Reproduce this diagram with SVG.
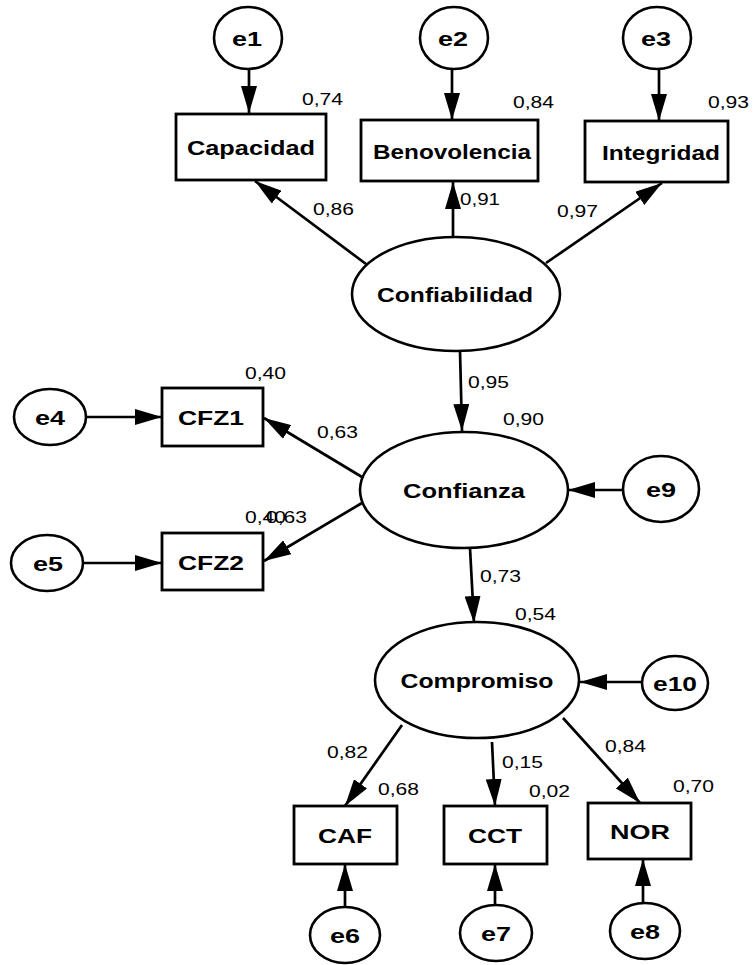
<svg xmlns="http://www.w3.org/2000/svg" width="753" height="965" viewBox="0 0 753 965">
  <style>
    .box { fill: #fff; stroke: #000; stroke-width: 2.8; }
    .lat { fill: #fff; stroke: #000; stroke-width: 2.6; }
    .err { fill: #fff; stroke: #000; stroke-width: 2.6; }
    .lbl { font-family: "Liberation Sans", Arial, sans-serif; font-weight: bold; font-size: 21px; fill: #000; text-anchor: middle; }
    .num { font-family: "Liberation Sans", Arial, sans-serif; font-size: 17px; fill: #000; }
    .path { fill: none; stroke: #000; stroke-width: 2.7; marker-end: url(#head); }
  </style>
  <defs>
    <marker id="head" viewBox="0 0 27 16" refX="27" refY="8" markerWidth="27" markerHeight="16" markerUnits="userSpaceOnUse" orient="auto">
      <path d="M0,0 L27,8 L0,16 Z" fill="#000"/>
    </marker>
  </defs>
  <rect width="753" height="965" fill="#fff"/>

  <!-- paths -->
  <g id="connectors">
    <line class="path" x1="249" y1="70" x2="249" y2="113"/>
    <line class="path" x1="452" y1="70" x2="452" y2="120"/>
    <line class="path" x1="659" y1="70" x2="659" y2="121"/>
    <line class="path" x1="366" y1="264" x2="255" y2="181"/>
    <line class="path" x1="453" y1="237" x2="453" y2="182"/>
    <line class="path" x1="546" y1="263" x2="662" y2="183"/>
    <line class="path" x1="460" y1="351" x2="462" y2="431"/>
    <line class="path" x1="86" y1="417" x2="162" y2="417"/>
    <line class="path" x1="82" y1="563" x2="162" y2="563"/>
    <line class="path" x1="362" y1="477" x2="264" y2="418"/>
    <line class="path" x1="362" y1="503" x2="264" y2="561"/>
    <line class="path" x1="623" y1="490" x2="568" y2="490"/>
    <line class="path" x1="470" y1="548" x2="474" y2="623"/>
    <line class="path" x1="641" y1="682" x2="580" y2="682"/>
    <line class="path" x1="402" y1="725" x2="345" y2="806"/>
    <line class="path" x1="492" y1="742" x2="495" y2="806"/>
    <line class="path" x1="563" y1="718" x2="640" y2="803"/>
    <line class="path" x1="345" y1="908" x2="345" y2="864"/>
    <line class="path" x1="495" y1="906" x2="495" y2="864"/>
    <line class="path" x1="643" y1="904" x2="643" y2="859"/>
  </g>

  <!-- observed indicators -->
  <g id="capacidad">
    <rect class="box" x="176" y="114" width="150" height="66"/>
    <text class="lbl" x="251" y="155" textLength="128" lengthAdjust="spacingAndGlyphs">Capacidad</text>
  </g>
  <g id="benovolencia">
    <rect class="box" x="361" y="120" width="177" height="61"/>
    <text class="lbl" x="452" y="159" textLength="158" lengthAdjust="spacingAndGlyphs">Benovolencia</text>
  </g>
  <g id="integridad">
    <rect class="box" x="585" y="121" width="143" height="61"/>
    <text class="lbl" x="661" y="160" textLength="118" lengthAdjust="spacingAndGlyphs">Integridad</text>
  </g>
  <g id="cfz1">
    <rect class="box" x="162" y="388" width="101" height="58"/>
    <text class="lbl" x="211" y="425" textLength="66" lengthAdjust="spacingAndGlyphs">CFZ1</text>
  </g>
  <g id="cfz2">
    <rect class="box" x="162" y="533" width="101" height="57"/>
    <text class="lbl" x="211" y="570" textLength="66" lengthAdjust="spacingAndGlyphs">CFZ2</text>
  </g>
  <g id="caf">
    <rect class="box" x="294" y="806" width="103" height="58"/>
    <text class="lbl" x="345" y="843" textLength="54" lengthAdjust="spacingAndGlyphs">CAF</text>
  </g>
  <g id="cct">
    <rect class="box" x="444" y="806" width="103" height="58"/>
    <text class="lbl" x="495" y="843" textLength="54" lengthAdjust="spacingAndGlyphs">CCT</text>
  </g>
  <g id="nor">
    <rect class="box" x="588" y="803" width="103" height="56"/>
    <text class="lbl" x="640" y="839" textLength="60" lengthAdjust="spacingAndGlyphs">NOR</text>
  </g>

  <!-- latent variables -->
  <g id="confiabilidad">
    <ellipse class="lat" cx="456" cy="294" rx="104" ry="57"/>
    <text class="lbl" x="455" y="302" textLength="156" lengthAdjust="spacingAndGlyphs">Confiabilidad</text>
  </g>
  <g id="confianza">
    <ellipse class="lat" cx="464" cy="490" rx="104" ry="58"/>
    <text class="lbl" x="464" y="498" textLength="122" lengthAdjust="spacingAndGlyphs">Confianza</text>
  </g>
  <g id="compromiso">
    <ellipse class="lat" cx="477" cy="680" rx="102" ry="58"/>
    <text class="lbl" x="477" y="688" textLength="153" lengthAdjust="spacingAndGlyphs">Compromiso</text>
  </g>

  <!-- error terms -->
  <g id="e1">
    <ellipse class="err" cx="248" cy="38" rx="34" ry="31"/>
    <text class="lbl" x="247" y="46" textLength="30" lengthAdjust="spacingAndGlyphs">e1</text>
  </g>
  <g id="e2">
    <ellipse class="err" cx="454" cy="38" rx="34" ry="31"/>
    <text class="lbl" x="453" y="46" textLength="30" lengthAdjust="spacingAndGlyphs">e2</text>
  </g>
  <g id="e3">
    <ellipse class="err" cx="657" cy="38" rx="34" ry="31"/>
    <text class="lbl" x="656" y="46" textLength="30" lengthAdjust="spacingAndGlyphs">e3</text>
  </g>
  <g id="e4">
    <ellipse class="err" cx="50" cy="417" rx="36" ry="28"/>
    <text class="lbl" x="50" y="425" textLength="30" lengthAdjust="spacingAndGlyphs">e4</text>
  </g>
  <g id="e5">
    <ellipse class="err" cx="47" cy="563" rx="36" ry="28"/>
    <text class="lbl" x="48" y="571" textLength="30" lengthAdjust="spacingAndGlyphs">e5</text>
  </g>
  <g id="e9">
    <ellipse class="err" cx="661" cy="489" rx="38" ry="33"/>
    <text class="lbl" x="661" y="497" textLength="30" lengthAdjust="spacingAndGlyphs">e9</text>
  </g>
  <g id="e10">
    <ellipse class="err" cx="675" cy="683" rx="33" ry="27"/>
    <text class="lbl" x="675" y="691" textLength="44" lengthAdjust="spacingAndGlyphs">e10</text>
  </g>
  <g id="e6">
    <ellipse class="err" cx="345" cy="935" rx="35" ry="28"/>
    <text class="lbl" x="345" y="943" textLength="30" lengthAdjust="spacingAndGlyphs">e6</text>
  </g>
  <g id="e7">
    <ellipse class="err" cx="496" cy="933" rx="36" ry="28"/>
    <text class="lbl" x="496" y="941" textLength="30" lengthAdjust="spacingAndGlyphs">e7</text>
  </g>
  <g id="e8">
    <ellipse class="err" cx="645" cy="931" rx="35" ry="28"/>
    <text class="lbl" x="645" y="939" textLength="30" lengthAdjust="spacingAndGlyphs">e8</text>
  </g>

  <!-- estimates -->
  <g id="estimates">
    <text class="num" x="302" y="105" textLength="41" lengthAdjust="spacingAndGlyphs">0,74</text>
    <text class="num" x="513" y="108" textLength="41" lengthAdjust="spacingAndGlyphs">0,84</text>
    <text class="num" x="708" y="108" textLength="41" lengthAdjust="spacingAndGlyphs">0,93</text>
    <text class="num" x="313" y="215" textLength="41" lengthAdjust="spacingAndGlyphs">0,86</text>
    <text class="num" x="460" y="205" textLength="40" lengthAdjust="spacingAndGlyphs">0,91</text>
    <text class="num" x="557" y="217" textLength="41" lengthAdjust="spacingAndGlyphs">0,97</text>
    <text class="num" x="468" y="388" textLength="41" lengthAdjust="spacingAndGlyphs">0,95</text>
    <text class="num" x="503" y="425" textLength="41" lengthAdjust="spacingAndGlyphs">0,90</text>
    <text class="num" x="245" y="379" textLength="41" lengthAdjust="spacingAndGlyphs">0,40</text>
    <text class="num" x="317" y="438" textLength="41" lengthAdjust="spacingAndGlyphs">0,63</text>
    <text class="num" x="245" y="523" textLength="41" lengthAdjust="spacingAndGlyphs">0,40</text>
    <text class="num" x="266" y="523" textLength="41" lengthAdjust="spacingAndGlyphs">0,63</text>
    <text class="num" x="480" y="582" textLength="41" lengthAdjust="spacingAndGlyphs">0,73</text>
    <text class="num" x="515" y="620" textLength="41" lengthAdjust="spacingAndGlyphs">0,54</text>
    <text class="num" x="327" y="758" textLength="41" lengthAdjust="spacingAndGlyphs">0,82</text>
    <text class="num" x="378" y="795" textLength="41" lengthAdjust="spacingAndGlyphs">0,68</text>
    <text class="num" x="502" y="768" textLength="41" lengthAdjust="spacingAndGlyphs">0,15</text>
    <text class="num" x="529" y="797" textLength="41" lengthAdjust="spacingAndGlyphs">0,02</text>
    <text class="num" x="605" y="752" textLength="41" lengthAdjust="spacingAndGlyphs">0,84</text>
    <text class="num" x="673" y="792" textLength="41" lengthAdjust="spacingAndGlyphs">0,70</text>
  </g>
</svg>
